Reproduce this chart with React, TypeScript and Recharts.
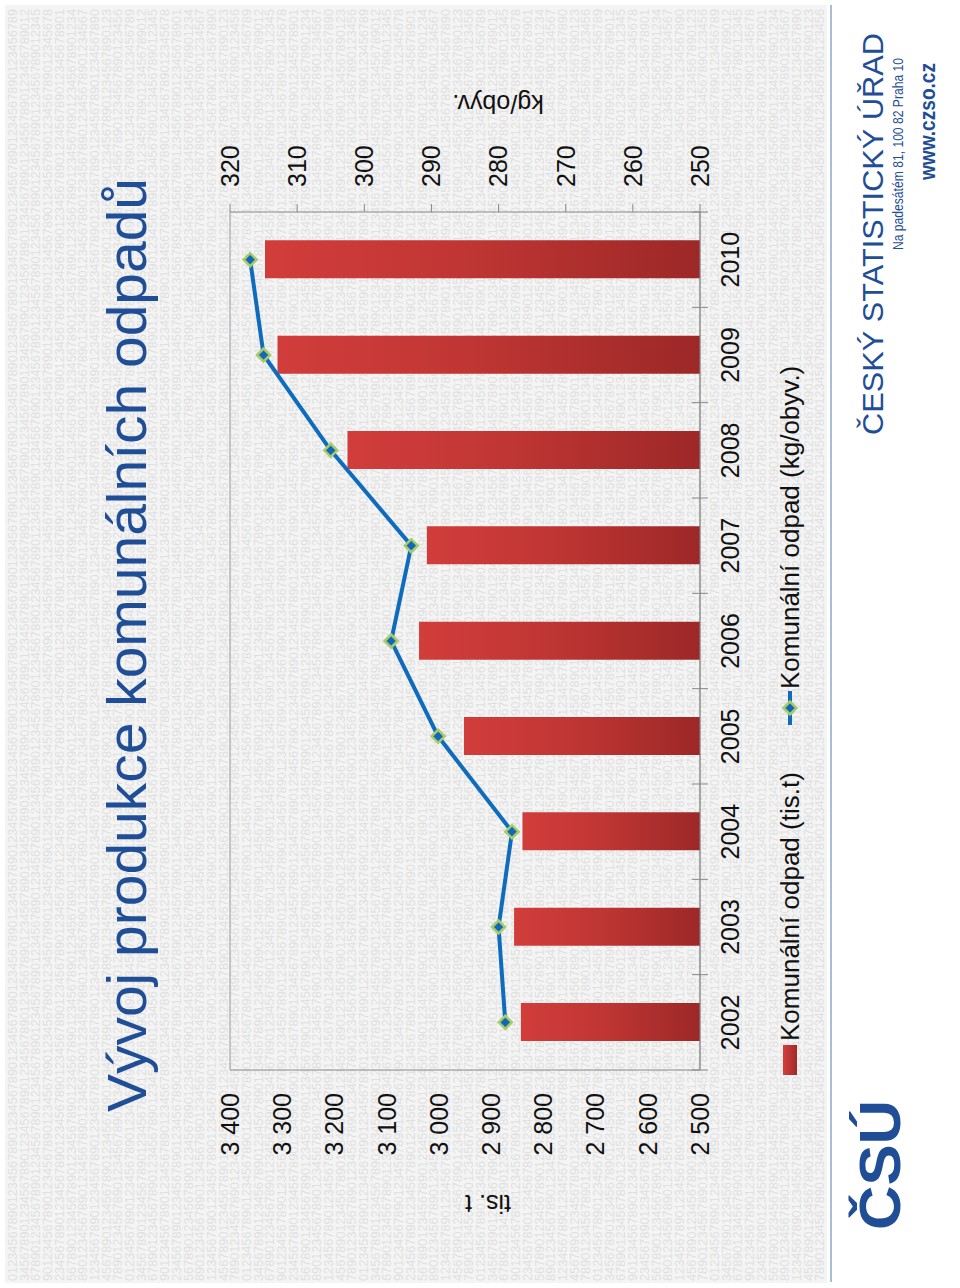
import React from 'react'
import { ComposedChart, Bar, Line, XAxis, YAxis, CartesianGrid } from 'recharts'

// Vývoj produkce komunálních odpadů (ČSÚ), slide rotated 90° CCW on the page
const years = ['2002', '2003', '2004', '2005', '2006', '2007', '2008', '2009', '2010']
const wasteKt = [2843, 2856, 2840, 2952, 3038, 3023, 3175, 3309, 3333]
const wastePerCapita = [279, 280, 278, 289, 296, 293, 305, 315, 317]
const ktTicks = [2500, 2600, 2700, 2800, 2900, 3000, 3100, 3200, 3300, 3400]
const perCapitaTicks = [250, 260, 270, 280, 290, 300, 310, 320]

const SLIDE_W = 1288
const SLIDE_H = 960
const PLOT_LEFT = 218
const PLOT_RIGHT = 1076
const FONT = '"Liberation Sans", Arial, sans-serif'
const BLUE = '#1f4e96'

const data = years.map((year, i) => ({ year, kt: wasteKt[i], perCapita: wastePerCapita[i] }))

function formatKt(v: number): string {
  if (v < 1000) return String(v)
  return `${Math.floor(v / 1000)} ${String(v % 1000).padStart(3, '0')}`
}

function Diamond(props: any) {
  const { cx, cy, index } = props
  if (cx == null || cy == null) return <g key={`d-${index}`} />
  const r = 6.5
  return (
    <path
      key={`d-${index}`}
      d={`M${cx},${cy - r}L${cx + r},${cy}L${cx},${cy + r}L${cx - r},${cy}Z`}
      fill="#1466b8"
      stroke="#a6cc6a"
      strokeWidth={2.5}
    />
  )
}

function YearTick(props: any) {
  const { x, y, payload, index } = props
  const band = (PLOT_RIGHT - PLOT_LEFT) / years.length
  const axisY = y - 21
  return (
    <g>
      <line x1={x - band / 2} x2={x - band / 2} y1={axisY - 8} y2={axisY + 8} stroke="#888" />
      {index === years.length - 1 && (
        <line x1={x + band / 2} x2={x + band / 2} y1={axisY - 8} y2={axisY + 8} stroke="#888" />
      )}
      <text x={x} y={y} dy="0.71em" textAnchor="middle" fontSize={25} fill="#111" fontFamily={FONT}>
        {payload.value}
      </text>
    </g>
  )
}

// faint "0123456789" background pattern of the slide template
function Watermark() {
  const rows = []
  const base = '0123456789'.repeat(19)
  for (let i = 0; i < 70; i++) {
    const shift = (i * 3) % 10
    rows.push(
      <text
        key={i}
        x={7}
        y={17 + i * 11.7}
        fontSize={12}
        fill="#e0e0e0"
        fontFamily={FONT}
        textLength={SLIDE_W - 16}
        lengthAdjust="spacingAndGlyphs"
      >
        {base.slice(shift, shift + 180)}
      </text>
    )
  }
  return (
    <svg width={SLIDE_W} height={SLIDE_H} style={{ position: 'absolute', left: 0, top: 0 }}>
      <rect x={0} y={0} width={SLIDE_W} height={SLIDE_H} fill="#ffffff" />
      <rect x={5} y={5} width={SLIDE_W - 10} height={822} fill="#f4f4f4" />
      {rows}
    </svg>
  )
}

function Overlay() {
  return (
    <svg width={SLIDE_W} height={SLIDE_H} style={{ position: 'absolute', left: 0, top: 0, pointerEvents: 'none' }}>
      <defs>
        <linearGradient id="legendRed" x1="0" y1="0" x2="0" y2="1">
          <stop offset="0%" stopColor="#d33e3c" />
          <stop offset="100%" stopColor="#a02a29" />
        </linearGradient>
      </defs>
      <text x={176} y={146} fontSize={55} fill={BLUE} fontFamily={FONT} textLength={934} lengthAdjust="spacingAndGlyphs">
        Vývoj produkce komunálních odpadů
      </text>

      <text transform="translate(84,488) rotate(-90)" textAnchor="middle" dominantBaseline="central" fontSize={25} fill="#111" fontFamily={FONT}>
        tis. t
      </text>
      <text transform="translate(1184,498) rotate(-90)" textAnchor="middle" dominantBaseline="central" fontSize={25} fill="#111" fontFamily={FONT}>
        kg/obyv.
      </text>

      {/* legend */}
      <rect x={213} y={783} width={30} height={14} fill="url(#legendRed)" />
      <text x={247} y={799} fontSize={26} fill="#111" fontFamily={FONT}>Komunální odpad (tis.t)</text>
      <line x1={563} x2={597} y1={790} y2={790} stroke="#0f6cbd" strokeWidth={4} />
      <path d="M580,783.5L586.5,790L580,796.5L573.5,790Z" fill="#1466b8" stroke="#a6cc6a" strokeWidth={2.5} />
      <text x={599} y={799} fontSize={26} fill="#111" fontFamily={FONT}>Komunální odpad (kg/obyv.)</text>

      {/* footer */}
      <line x1={6} x2={1283} y1={831} y2={831} stroke="#a9bdd3" strokeWidth={2} />
      <text x={58} y={900} fontSize={58} fontWeight={900} fill={BLUE} fontFamily={FONT} textLength={130} lengthAdjust="spacingAndGlyphs">
        ČSÚ
      </text>
      <text x={853} y={883} fontSize={30} fill={BLUE} fontFamily={FONT} textLength={402} lengthAdjust="spacingAndGlyphs">
        ČESKÝ STATISTICKÝ ÚŘAD
      </text>
      <text x={1038} y={903} fontSize={15} fill={BLUE} fontFamily={FONT} textLength={192} lengthAdjust="spacingAndGlyphs">
        Na padesátém 81, 100 82  Praha 10
      </text>
      <text x={1108} y={935} fontSize={22} fontWeight={700} fill={BLUE} fontFamily={FONT} textLength={117} lengthAdjust="spacingAndGlyphs">
        www.czso.cz
      </text>
    </svg>
  )
}

export default function App() {
  return (
    <div style={{ position: 'absolute', left: 0, top: 0, width: 960, height: 1288, overflow: 'hidden', background: '#fff' }}>
      <div
        style={{
          position: 'absolute',
          left: 0,
          top: 0,
          width: SLIDE_W,
          height: SLIDE_H,
          transformOrigin: '0 0',
          transform: `translateY(${SLIDE_W}px) rotate(-90deg)`,
        }}
      >
        <Watermark />
        <div style={{ position: 'absolute', left: 0, top: 0 }}>
          <ComposedChart
            width={SLIDE_W}
            height={SLIDE_H}
            data={data}
            margin={{ top: 230, right: 0, bottom: 230, left: 0 }}
          >
            <defs>
              <linearGradient id="barRed" x1="0" y1="0" x2="0" y2="1">
                <stop offset="0%" stopColor="#d13d3b" />
                <stop offset="45%" stopColor="#c03634" />
                <stop offset="100%" stopColor="#9c2827" />
              </linearGradient>
            </defs>
            <CartesianGrid vertical={false} stroke="#9a9a9a" />
            <XAxis
              dataKey="year"
              height={30}
              tickLine={false}
              tickSize={0}
              tickMargin={21}
              axisLine={{ stroke: '#888' }}
              tick={<YearTick />}
              interval={0}
            />
            <YAxis
              yAxisId="left"
              width={PLOT_LEFT}
              domain={[2500, 3400]}
              ticks={ktTicks}
              tickFormatter={formatKt}
              tickLine={false}
              tickSize={0}
              tickMargin={23}
              axisLine={{ stroke: '#888' }}
              tick={{ fontSize: 25, fill: '#111', fontFamily: FONT }}
              allowDataOverflow
            />
            <YAxis
              yAxisId="right"
              orientation="right"
              width={SLIDE_W - PLOT_RIGHT}
              domain={[250, 320]}
              ticks={perCapitaTicks}
              tickLine={{ stroke: '#888' }}
              tickSize={8}
              tickMargin={17}
              axisLine={{ stroke: '#888' }}
              tick={{ fontSize: 25, fill: '#111', fontFamily: FONT, textAnchor: 'start' }}
              allowDataOverflow
            />
            <Bar yAxisId="left" dataKey="kt" barSize={38} fill="url(#barRed)" isAnimationActive={false} />
            <Line
              yAxisId="right"
              dataKey="perCapita"
              stroke="#0f6cbd"
              strokeWidth={4}
              dot={<Diamond />}
              activeDot={false}
              isAnimationActive={false}
            />
          </ComposedChart>
        </div>
        <Overlay />
      </div>
    </div>
  )
}
